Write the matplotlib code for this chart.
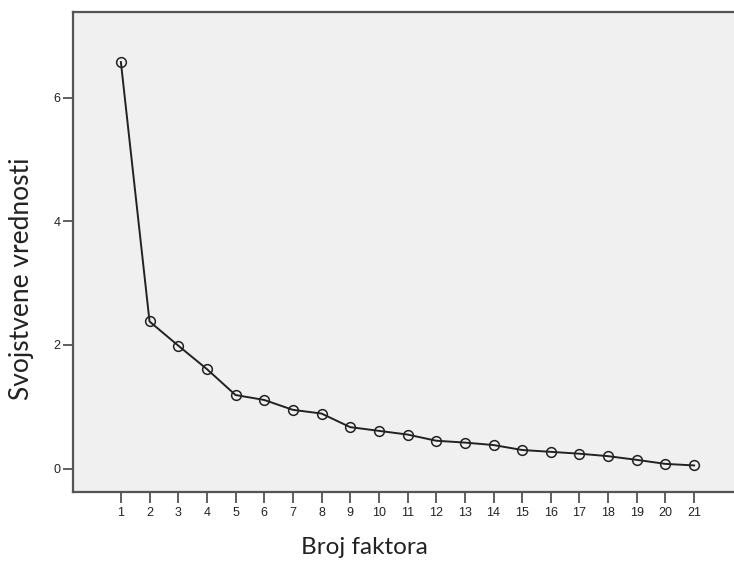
import matplotlib
matplotlib.use("Agg")
from matplotlib import pyplot as plt

factors = list(range(1, 22))
eigenvalues = [6.58, 2.38, 1.99, 1.61, 1.19, 1.11, 0.95, 0.89, 0.67, 0.61,
               0.55, 0.45, 0.42, 0.38, 0.30, 0.27, 0.24, 0.20, 0.14, 0.075, 0.05]
y_ticks = [0, 2, 4, 6]

fig = plt.figure(figsize=(7.34, 5.61), dpi=100)
ax = fig.add_axes([73 / 734, 69 / 561, 661 / 734, 480 / 561])
ax.set_facecolor("#f0f0f0")

ax.plot(factors, eigenvalues, color="#222222", linewidth=1.4,
        marker="o", markersize=7, markerfacecolor="none",
        markeredgecolor="#222222", markeredgewidth=1.1)

ax.set_xlim(-0.67, 22.39)
ax.set_ylim(-0.38, 7.39)
ax.set_xticks(factors)
ax.set_yticks(y_ticks)

for side in ["left", "bottom", "top"]:
    ax.spines[side].set_color("#555555")
    ax.spines[side].set_linewidth(1.6)
ax.spines["right"].set_visible(False)

ax.tick_params(axis="x", length=8, width=1.2, color="#444444",
               labelsize=9, labelcolor="#222222", pad=3)
ax.tick_params(axis="y", length=7, width=1.2, color="#444444",
               labelsize=9, labelcolor="#222222", pad=2)
for lbl in ax.get_xticklabels() + ax.get_yticklabels():
    lbl.set_family("Liberation Sans")

ax.set_xlabel("Broj faktora", fontsize=17.5, family="Lato", color="#222222")
ax.xaxis.set_label_coords((364 - 73) / 661, (492 - 554) / 480)
ax.xaxis.label.set_va("baseline")
ax.set_ylabel("Svojstvene vrednosti", fontsize=19, family="Lato", color="#222222")
ax.yaxis.set_label_coords((22 - 73) / 661, (492 - 279) / 480)
ax.yaxis.label.set_va("center")

fig.savefig("out.png", dpi=100)
